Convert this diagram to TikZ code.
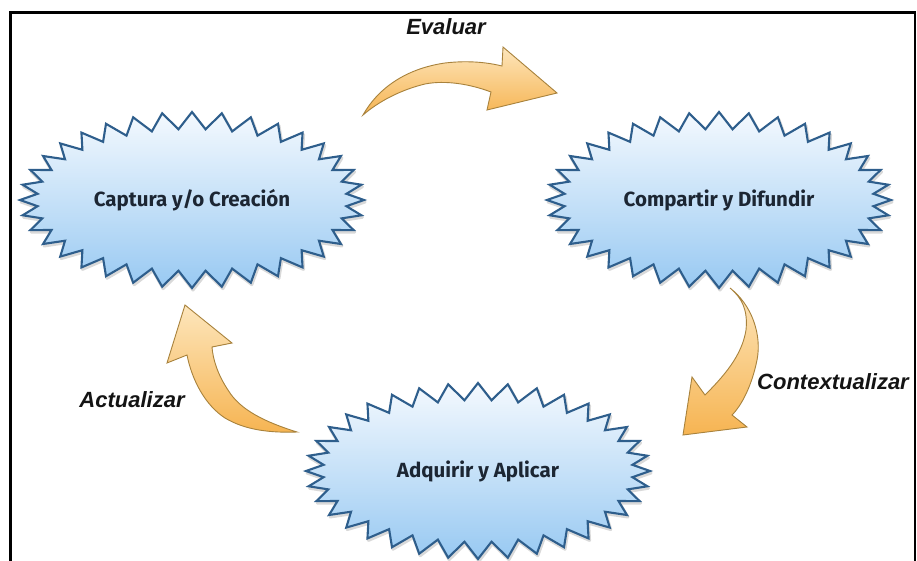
\documentclass[tikz,border=0pt]{standalone}
\usepackage{fontspec}
\setmainfont{Fira Sans}
\newfontfamily\labelfont{Liberation Sans}
\definecolor{burstline}{HTML}{2E5E8C}
\definecolor{burstTop}{HTML}{F4F9FE}
\definecolor{burstBot}{HTML}{98C9F2}
\definecolor{arrowline}{HTML}{A8823C}
\definecolor{arrowTop}{HTML}{FDE6BC}
\definecolor{arrowBot}{HTML}{F6B452}
\definecolor{nodetext}{HTML}{1C2633}
\newcommand\mkburst[4]{%
  \draw[burstshadow] ({#2+172+1},{#3+2}) \foreach \i in {1,...,71} { -- ({#2+1+(172-17*isodd(\i))*cos(\i*5)},{#3+2+(88-17*isodd(\i))*sin(\i*5)}) } -- cycle;
  \draw[burst] ({#2+172},{#3}) \foreach \i in {1,...,71} { -- ({#2+(172-17*isodd(\i))*cos(\i*5)},{#3+(88-17*isodd(\i))*sin(\i*5)}) } -- cycle;
  \node[nodetxt] (#1) at (#2,#3) {#4};
}
\begin{document}
\begin{tikzpicture}[x=1pt,y=-1pt,
  burst/.style={draw=burstline, line width=2.1pt, top color=burstTop, bottom color=burstBot, line join=miter, miter limit=4},
  burstshadow/.style={draw=black, line width=3pt, opacity=0.15, line join=round},
  barrow/.style={draw=arrowline, line width=0.9pt, top color=arrowTop, bottom color=arrowBot, line join=miter},
  lbl/.style={font=\labelfont\bfseries\itshape\fontsize{22}{24}\selectfont, text=black!92, inner sep=0pt},
  nodetxt/.style={font=\bfseries\fontsize{20.5}{24}\selectfont, text=nodetext, inner sep=0pt}
]
\useasboundingbox (0,0) rectangle (917,560);
\clip (0,0) rectangle (917,560);
\fill[white] (0,0) rectangle (917,560);

% frame
\draw[line width=2.6pt, black] (10.5,590) -- (10.5,12.5) -- (914.8,12.5) -- (914.8,590);

% starbursts
\mkburst{cap}{192}{200}{Captura y/o Creación}
\mkburst{comp}{719}{200}{Compartir y Difundir}
\mkburst{adq}{478}{471}{Adquirir y Aplicar}

% curved block arrows
\draw[barrow] (363,115) .. controls (380,85) and (410,68) .. (445,63)
  .. controls (470,60) and (490,63) .. (502,66) -- (503,47) -- (557,93) -- (487,110) -- (491,92)
  .. controls (470,84) and (445,80) .. (425,84) .. controls (400,90) and (378,102) .. (363,115) -- cycle;

\draw[barrow] (730,288) .. controls (752,305) and (762,335) .. (757,360)
  .. controls (752,385) and (742,405) .. (732,415) -- (747,427) -- (683,435) -- (692,377) -- (705,395)
  .. controls (725,375) and (742,355) .. (746,330) .. controls (748,310) and (742,298) .. (730,288) -- cycle;

\draw[barrow] (297,432) .. controls (265,422) and (240,410) .. (228,390)
  .. controls (218,375) and (213,360) .. (212,347) -- (232,343) -- (185,305) -- (167,363) -- (187,355)
  .. controls (192,380) and (205,405) .. (225,418) .. controls (245,430) and (270,433) .. (297,432) -- cycle;

% labels
\node[lbl] (eval) at (446,27) {Evaluar};
\node[lbl, anchor=west] (ctx) at (757,382) {Contextualizar};
\node[lbl] (act) at (132,400) {Actualizar};
\end{tikzpicture}
\end{document}
